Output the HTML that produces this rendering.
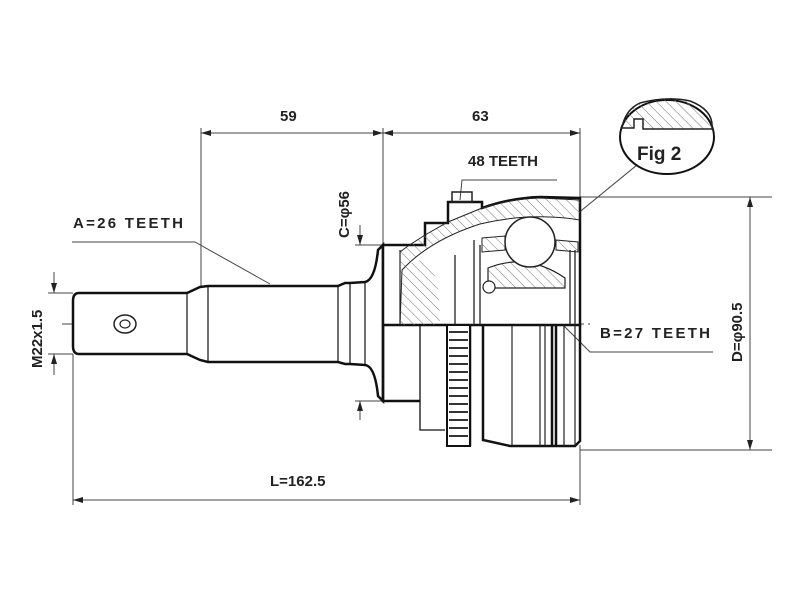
<!DOCTYPE html>
<html><head><style>html,body{margin:0;padding:0;background:#fff}svg{display:block}</style></head>
<body>
<svg width="800" height="600" viewBox="0 0 800 600" xmlns="http://www.w3.org/2000/svg">
<defs>
<pattern id="h" width="7" height="7" patternUnits="userSpaceOnUse" patternTransform="rotate(-45)">
<line x1="0" y1="0" x2="0" y2="7" stroke="#777" stroke-width="1"/></pattern>
<marker id="a" viewBox="0 0 10 6" refX="10" refY="3" markerWidth="10" markerHeight="6" orient="auto-start-reverse" markerUnits="userSpaceOnUse"><path d="M0,0 L10,3 L0,6 z" fill="#222"/></marker>
</defs>
<g font-family="Liberation Sans, sans-serif" font-weight="bold" font-size="15" fill="#222">
<g stroke="#444" stroke-width="1" fill="none">
<line x1="201" y1="128" x2="201" y2="287"/>
<line x1="383" y1="128" x2="383" y2="245"/>
<line x1="580" y1="128" x2="580" y2="198"/>
<line x1="201" y1="133" x2="383" y2="133" marker-start="url(#a)" marker-end="url(#a)"/>
<line x1="383" y1="133" x2="580" y2="133" marker-start="url(#a)" marker-end="url(#a)"/>
<line x1="73" y1="354" x2="73" y2="505"/>
<line x1="580" y1="445" x2="580" y2="505"/>
<line x1="73" y1="500" x2="580" y2="500" marker-start="url(#a)" marker-end="url(#a)"/>
<line x1="48" y1="293" x2="73" y2="293"/><line x1="48" y1="354" x2="73" y2="354"/>
<line x1="54" y1="272" x2="54" y2="293" marker-end="url(#a)"/>
<line x1="54" y1="375" x2="54" y2="354" marker-end="url(#a)"/>
<line x1="355" y1="245" x2="383" y2="245"/><line x1="355" y1="401" x2="383" y2="401"/>
<line x1="360" y1="225" x2="360" y2="245" marker-end="url(#a)"/>
<line x1="360" y1="420" x2="360" y2="401" marker-end="url(#a)"/>
<line x1="580" y1="197" x2="772" y2="197"/><line x1="580" y1="450" x2="772" y2="450"/>
<line x1="750" y1="197" x2="750" y2="450" marker-start="url(#a)" marker-end="url(#a)"/>
<polyline points="72,242 195,242 270,284"/>
<polyline points="557,180 462,180 460,200"/>
<polyline points="713,352 590,352 530,292"/>
<line x1="637" y1="165" x2="560" y2="228"/>
<line x1="62" y1="324" x2="590" y2="324" stroke-dasharray="30,4,3,4"/>
<line x1="125" y1="305" x2="125" y2="343"/>
<line x1="530" y1="212" x2="530" y2="272" stroke-dasharray="8,3"/>
</g>
<g stroke="#111" stroke-width="2.5" fill="#fff">
<path d="M79,293 L187,293 L200,287 L208,286 L338,286 L345,283 L350,283 L365,282 Q375,280 378,250 L383,245 L383,401 L378,396 Q375,366 365,365 L350,364 L345,364 L338,362 L208,362 L200,360 L187,354 L79,354 Q73,354 73,346 L73,301 Q73,293 79,293 Z"/>
<line x1="187" y1="293" x2="187" y2="354" stroke-width="1.2"/>
<line x1="208" y1="286" x2="208" y2="362" stroke-width="1.2"/>
<line x1="338" y1="286" x2="338" y2="362" stroke-width="1.2"/>
<line x1="350" y1="283" x2="350" y2="364" stroke-width="1.2"/>
<line x1="365" y1="282" x2="365" y2="365" stroke-width="1.2"/>
</g>
<ellipse cx="125" cy="324" rx="11" ry="9" fill="none" stroke="#222" stroke-width="1.5"/>
<ellipse cx="125" cy="324" rx="5" ry="4" fill="none" stroke="#222" stroke-width="1.2"/>
<path d="M383,325 L383,245 L425,245 L425,223 L448,223 L448,202 L482,202 L482,208 Q510,198 540,197 L580,198 L580,325 Z" fill="#fff" stroke="#111" stroke-width="2.5"/>
<line x1="400" y1="250" x2="400" y2="325" stroke="#222" stroke-width="1.2"/>
<path d="M400,325 L402,270 Q430,240 480,224 Q530,212 580,220 L580,200 L540,198 Q510,199 482,208 L448,222 L425,235 L408,246 L400,252 Z" fill="url(#h)" stroke="#222" stroke-width="1"/>
<path d="M400,325 L402,270 Q440,235 440,325 Z" fill="url(#h)" stroke="none"/>
<path d="M482,238 L505,236 L505,250 L482,252 Z M556,240 L578,242 L578,252 L556,250 Z" fill="url(#h)" stroke="#222" stroke-width="1"/>
<path d="M488,268 Q527,252 565,278 L565,288 L488,288 Z" fill="url(#h)" stroke="#222" stroke-width="1.2"/>
<circle cx="530" cy="242" r="25" fill="#fff" stroke="#222" stroke-width="1.5"/>
<circle cx="489" cy="287" r="6" fill="#fff" stroke="#222" stroke-width="1.2"/>
<g stroke="#222" stroke-width="1.3"><line x1="455" y1="255" x2="455" y2="325"/><line x1="474" y1="240" x2="474" y2="325"/><line x1="480" y1="245" x2="480" y2="325"/><line x1="570" y1="250" x2="570" y2="325"/><line x1="575" y1="250" x2="575" y2="325"/></g>
<rect x="452" y="192" width="20" height="10" fill="none" stroke="#222" stroke-width="1.5"/>
<g stroke="#111" stroke-width="2.5" fill="none">
<path d="M383,325 L383,401 L420,401"/>
<path d="M420,325 L420,430 L445,430" stroke-width="1.3"/>
<path d="M470,325 L470,446 M483,325 L483,440 L510,446 L575,446 L580,441 L580,325"/>
<line x1="552" y1="325" x2="552" y2="446"/><line x1="556" y1="325" x2="556" y2="446"/>
</g>
<g stroke="#222" stroke-width="1.2"><line x1="512" y1="325" x2="512" y2="446"/><line x1="540" y1="325" x2="540" y2="446"/><line x1="545" y1="325" x2="545" y2="446"/><line x1="564" y1="325" x2="564" y2="446"/><line x1="575" y1="325" x2="575" y2="446"/></g>
<rect x="447" y="325" width="23" height="121" fill="#fff" stroke="#111" stroke-width="2"/>
<g stroke="#333" stroke-width="2">
<line x1="449" y1="332" x2="468" y2="332"/><line x1="449" y1="340" x2="468" y2="340"/><line x1="449" y1="348" x2="468" y2="348"/><line x1="449" y1="356" x2="468" y2="356"/><line x1="449" y1="364" x2="468" y2="364"/><line x1="449" y1="372" x2="468" y2="372"/><line x1="449" y1="380" x2="468" y2="380"/><line x1="449" y1="388" x2="468" y2="388"/><line x1="449" y1="396" x2="468" y2="396"/><line x1="449" y1="404" x2="468" y2="404"/><line x1="449" y1="412" x2="468" y2="412"/><line x1="449" y1="420" x2="468" y2="420"/><line x1="449" y1="428" x2="468" y2="428"/><line x1="449" y1="436" x2="468" y2="436"/>
</g>
<ellipse cx="667" cy="137" rx="47" ry="37" fill="#fff" stroke="#111" stroke-width="2"/>
<path d="M622,128 L634,128 L634,119 L643,119 L643,129 L712,129 Q714,110 690,101 Q667,96 640,103 Q625,110 622,128 Z" fill="url(#h)" stroke="#222" stroke-width="1.5"/>
<text x="637" y="160" font-size="19">Fig 2</text>
<text x="280" y="121">59</text>
<text x="472" y="121">63</text>
<text x="468" y="166">48 TEETH</text>
<text x="73" y="228" textLength="110">A=26 TEETH</text>
<text x="600" y="338" textLength="110">B=27 TEETH</text>
<text x="270" y="486">L=162.5</text>
<text transform="translate(349,238) rotate(-90)">C=φ56</text>
<text transform="translate(42,368) rotate(-90)">M22x1.5</text>
<text transform="translate(742,362) rotate(-90)">D=φ90.5</text>
</g>
</svg>
</body></html>
